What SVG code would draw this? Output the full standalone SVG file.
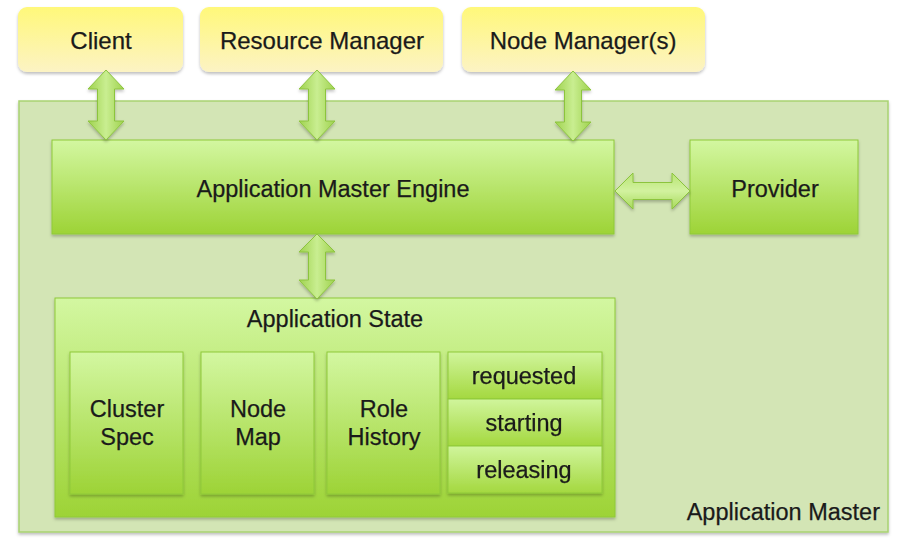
<svg xmlns="http://www.w3.org/2000/svg" width="907" height="543" viewBox="0 0 907 543">
<defs>
<linearGradient id="yel" x1="0" y1="0" x2="0" y2="1"><stop offset="0" stop-color="#fff87a"/><stop offset="1" stop-color="#fcf3c4"/></linearGradient>
<linearGradient id="grn" x1="0" y1="0" x2="0" y2="1"><stop offset="0" stop-color="#d3f7a1"/><stop offset="1" stop-color="#9dd336"/></linearGradient>
<linearGradient id="grnS" x1="0" y1="0" x2="0" y2="1"><stop offset="0" stop-color="#d0f59c"/><stop offset="1" stop-color="#a4d83f"/></linearGradient>
<linearGradient id="av" x1="0" y1="0" x2="1" y2="0"><stop offset="0" stop-color="#9fd24e"/><stop offset="0.5" stop-color="#c9ee91"/><stop offset="1" stop-color="#9fd24e"/></linearGradient>
<linearGradient id="ah" x1="0" y1="0" x2="0" y2="1"><stop offset="0" stop-color="#b8e474"/><stop offset="0.5" stop-color="#d2f29f"/><stop offset="1" stop-color="#a7d95a"/></linearGradient>
<filter id="sh" x="-10%" y="-10%" width="120%" height="130%"><feDropShadow dx="0" dy="2" stdDeviation="1.5" flood-color="#000" flood-opacity="0.25"/></filter>
</defs>
<style>
text{font-family:"Liberation Sans",Arial,sans-serif;fill:#1a1a1a;stroke:#1a1a1a;stroke-width:0.25;text-anchor:middle}
.y{fill:url(#yel);filter:url(#sh)}
.g{fill:url(#grn);stroke:#8fc93a;stroke-width:1;filter:url(#sh)}
.s{fill:url(#grnS);stroke:#8fc93a;stroke-width:1}
.av{fill:url(#av);stroke:#8cc43e;stroke-width:1;filter:url(#sh)}
.ah{fill:url(#ah);stroke:#8cc43e;stroke-width:1;filter:url(#sh)}
.t22{font-size:24px}
.t21{font-size:23.5px}
</style>
<g id="application-master">
<rect x="19" y="101" width="869" height="431" fill="#d3e5b5" stroke="#a9d272" stroke-width="1.5" filter="url(#sh)"/>
<text x="880" y="520" class="t21" style="text-anchor:end">Application Master</text>
</g>
<g id="client"><rect class="y" x="18" y="7" width="165" height="65" rx="9"/><text x="101" y="49" class="t22">Client</text></g>
<g id="resource-manager"><rect class="y" x="200" y="7" width="243" height="65" rx="9"/><text x="322" y="49" class="t22">Resource Manager</text></g>
<g id="node-managers"><rect class="y" x="462" y="7" width="243" height="65" rx="9"/><text x="583" y="49" class="t22">Node Manager(s)</text></g>
<g id="engine"><rect class="g" x="52" y="140" width="562" height="94"/><text x="333" y="197" class="t21">Application Master Engine</text></g>
<g id="provider"><rect class="g" x="690" y="140" width="168" height="94"/><text x="775" y="197" class="t21">Provider</text></g>
<g id="application-state">
<rect class="g" x="55" y="298" width="560" height="219"/>
<text x="335" y="327" class="t21">Application State</text>
<g id="cluster-spec"><rect class="g" x="70" y="352" width="113" height="142"/><text x="127" y="417" class="t21">Cluster</text><text x="127" y="445" class="t21">Spec</text></g>
<g id="node-map"><rect class="g" x="201" y="352" width="113" height="142"/><text x="258" y="417" class="t21">Node</text><text x="258" y="445" class="t21">Map</text></g>
<g id="role-history"><rect class="g" x="327" y="352" width="113" height="142"/><text x="384" y="417" class="t21">Role</text><text x="384" y="445" class="t21">History</text></g>
<g id="states" filter="url(#sh)">
<g id="requested"><rect class="s" x="448" y="352" width="154" height="47"/><text x="524" y="384" class="t21">requested</text></g>
<g id="starting"><rect class="s" x="448" y="399" width="154" height="47"/><text x="524" y="431" class="t21">starting</text></g>
<g id="releasing"><rect class="s" x="448" y="446" width="154" height="47"/><text x="524" y="478" class="t21">releasing</text></g>
</g>
</g>
<g id="connectors">
<path class="av" d="M106,70 L124,89 L114.5,89 L114.5,121 L124,121 L106,140 L88,121 L97.5,121 L97.5,89 L88,89 Z"/>
<path class="av" d="M317,70 L335,89 L325.5,89 L325.5,121 L335,121 L317,140 L299,121 L308.5,121 L308.5,89 L299,89 Z"/>
<path class="av" d="M573,71 L591,90 L581.5,90 L581.5,122 L591,122 L573,141 L555,122 L564.5,122 L564.5,90 L555,90 Z"/>
<path class="av" d="M317,234 L335,252 L325.5,252 L325.5,280 L335,280 L317,299 L299,280 L308.5,280 L308.5,252 L299,252 Z"/>
<path class="ah" d="M615,191 L633,173 L633,182.5 L672,182.5 L672,173 L690,191 L672,209 L672,199.5 L633,199.5 L633,209 Z"/>
</g>
</svg>
